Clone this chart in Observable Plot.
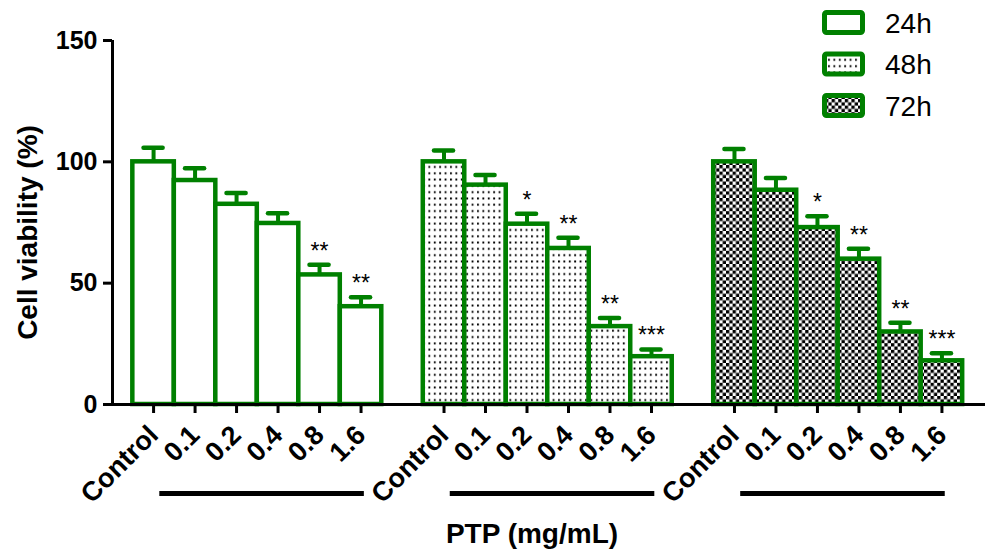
<!DOCTYPE html>
<html>
<head>
<meta charset="utf-8">
<script src="https://cdn.jsdelivr.net/npm/d3@7"></script>
<script src="https://cdn.jsdelivr.net/npm/@observablehq/plot@0.6"></script>
<style>
  html, body { margin: 0; padding: 0; background: #fff; }
  #chart { position: relative; width: 987px; height: 551px; }
</style>
</head>
<body>
<div id="chart"></div>
<script>
// ---- data ----
const groups = ["24h", "48h", "72h"];
const doses = ["Control", "0.1", "0.2", "0.4", "0.8", "1.6"];
const viability24 = [100, 92.3, 82.5, 74.6, 53.4, 40.3];
const error24     = [5.8, 5.1, 4.7, 4.2, 4.2, 3.9];
const signif24    = ["", "", "", "", "**", "**"];
const viability48 = [100, 90.4, 74.3, 64.3, 32.1, 19.7];
const error48     = [4.7, 4.2, 4.3, 4.4, 3.5, 3.0];
const signif48    = ["", "", "*", "**", "**", "***"];
const viability72 = [100, 88.3, 72.9, 59.9, 29.9, 18.0];
const error72     = [5.3, 5.0, 4.7, 4.3, 3.8, 3.1];
const signif72    = ["", "", "*", "**", "**", "***"];
const yTicks = [0, 50, 100, 150];
const xTitle = "PTP (mg/mL)";
const yTitle = "Cell viability (%)";

// ---- build table ----
const series = [
  {group: groups[0], v: viability24, e: error24, s: signif24, fill: "white"},
  {group: groups[1], v: viability48, e: error48, s: signif48, fill: "url(#pat-dots)"},
  {group: groups[2], v: viability72, e: error72, s: signif72, fill: "url(#pat-check)"}
];
const slotsPerGroup = doses.length + 1;
const rows = [];
series.forEach((g, gi) => {
  doses.forEach((d, i) => {
    rows.push({group: g.group, gi, dose: d, slot: gi * slotsPerGroup + i,
               value: g.v[i], err: g.e[i], sig: g.s[i]});
  });
});
const slotLabel = new Map(rows.map(r => [r.slot, r.dose]));
const groupLines = series.map((g, gi) => ({
  x1: gi * slotsPerGroup + 1 - 0.85,
  x2: gi * slotsPerGroup + doses.length - 1 + 0.08
}));

const green = "#008000";
const xDomain = [-0.99, 20.05];

const barMarks = series.map((g, gi) =>
  Plot.rect(rows.filter(r => r.gi === gi), {
    x1: r => r.slot - 0.5, x2: r => r.slot + 0.5,
    y1: 0, y2: "value",
    fill: g.fill, stroke: green, strokeWidth: 4.5, strokeLinejoin: "miter"
  })
);

const plot = Plot.plot({
  width: 987,
  height: 551,
  marginLeft: 112,
  marginRight: 2,
  marginTop: 40,
  marginBottom: 147,
  style: {fontFamily: "'Liberation Sans', Arial, sans-serif", background: "white", overflow: "visible"},
  x: {type: "linear", domain: xDomain, axis: null},
  y: {domain: [0, 150], axis: null},
  marks: [
    ...barMarks,
    // error bars
    Plot.ruleX(rows, {x: "slot", y1: "value", y2: r => r.value + r.err, stroke: green, strokeWidth: 4}),
    Plot.ruleY(rows, {x1: r => r.slot - 0.23, x2: r => r.slot + 0.23, y: r => r.value + r.err,
                      stroke: green, strokeWidth: 4.5, strokeLinecap: "round"}),
    // significance stars
    Plot.text(rows.filter(r => r.sig), {x: "slot", y: r => r.value + r.err, text: "sig",
      lineAnchor: "bottom", dy: -6, fontSize: 23, fill: "black"}),
    // axis lines
    Plot.ruleY([0], {stroke: "black", strokeWidth: 3}),
    Plot.ruleX([xDomain[0]], {y1: 0, y2: 150, stroke: "black", strokeWidth: 3}),
    // y axis
    Plot.axisY({ticks: yTicks, tickSize: 9, tickPadding: 6, fontSize: 25, fontWeight: "bold",
      label: null, strokeWidth: 3, stroke: "black", fill: "black"}),
    // x axis
    Plot.axisX({ticks: rows.map(r => r.slot), tickFormat: s => slotLabel.get(s),
      tickRotate: -45, tickSize: 9, tickPadding: 17, fontSize: 27, fontWeight: "bold",
      label: null, strokeWidth: 3, stroke: "black", fill: "black"}),
    // group underlines
    Plot.ruleY(groupLines, {x1: "x1", x2: "x2", y: 0, dy: 89, stroke: "black", strokeWidth: 5}),
    // axis titles
    Plot.text([xTitle], {text: d => d, frameAnchor: "bottom", lineAnchor: "middle",
      dx: -17, dy: 130, fontSize: 28, fontWeight: "bold", fill: "black"}),
    Plot.text([yTitle], {text: d => d, frameAnchor: "left", lineAnchor: "middle", textAnchor: "middle",
      rotate: -90, dx: -84, dy: 10, fontSize: 28, fontWeight: "bold", fill: "black"})
  ]
});

document.getElementById("chart").appendChild(plot);

// ---- patterns ----
const svg = d3.select(plot);
const defs = svg.insert("defs", ":first-child");
const dots = defs.append("pattern").attr("id", "pat-dots").attr("patternUnits", "userSpaceOnUse")
  .attr("width", 5.4).attr("height", 6.3);
dots.append("rect").attr("width", 5.4).attr("height", 6.3).attr("fill", "white");
dots.append("rect").attr("x", 1.8).attr("y", 2.2).attr("width", 1.9).attr("height", 1.9).attr("fill", "black");
const chk = defs.append("pattern").attr("id", "pat-check").attr("patternUnits", "userSpaceOnUse")
  .attr("width", 6.6).attr("height", 6.6);
chk.append("rect").attr("width", 6.6).attr("height", 6.6).attr("fill", "white");
chk.append("rect").attr("width", 3.3).attr("height", 3.3).attr("fill", "black");
chk.append("rect").attr("x", 3.3).attr("y", 3.3).attr("width", 3.3).attr("height", 3.3).attr("fill", "black");

// ---- legend ----
const legend = svg.append("g").attr("class", "legend").attr("text-anchor", "start");
series.forEach((g, i) => {
  const y0 = 12.5 + i * 41.5;
  legend.append("rect").attr("x", 824.5).attr("y", y0).attr("width", 38).attr("height", 20)
    .attr("rx", 2).attr("fill", g.fill).attr("stroke", green).attr("stroke-width", 5);
  legend.append("text").attr("x", 885).attr("y", y0 + 10).attr("dy", "0.36em")
    .attr("font-size", 28).attr("fill", "black").text(g.group);
});
</script>
</body>
</html>
